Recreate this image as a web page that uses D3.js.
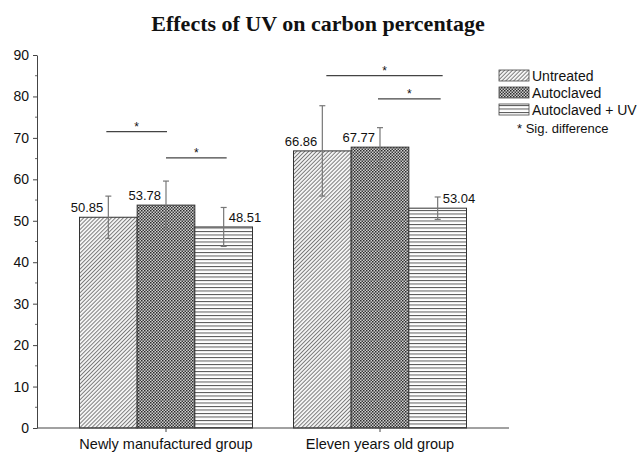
<!DOCTYPE html>
<html><head><meta charset="utf-8">
<script src="https://cdn.jsdelivr.net/npm/d3@7"></script>
<style>body{margin:0;background:#fff}</style>
</head><body>
<svg id="c" width="641" height="452"></svg>
<script>
const groups = ["Newly manufactured group", "Eleven years old group"];
const series = ["Untreated", "Autoclaved", "Autoclaved + UV"];
const values = [[50.85, 53.78, 48.51], [66.86, 67.77, 53.04]];
const errors = [[5.1, 5.8, 4.7], [10.9, 4.7, 2.7]];
const yTicks = [0, 10, 20, 30, 40, 50, 60, 70, 80, 90];
const sigLevels = [[71.5, 65.2], [85, 79.4]]; // [long line, short line] per group
const title = "Effects of UV on carbon percentage";
const sigNote = "* Sig. difference";

const svg = d3.select("#c");
const defs = svg.append("defs");
// patterns
const p1 = defs.append("pattern").attr("id","pat0").attr("patternUnits","userSpaceOnUse")
  .attr("width",2.8).attr("height",2.8).attr("patternTransform","rotate(45)");
p1.append("rect").attr("width",2.8).attr("height",2.8).attr("fill","#f4f4f4");
p1.append("line").attr("x1",0).attr("y1",0).attr("x2",0).attr("y2",2.8).attr("stroke","#444").attr("stroke-width",1.3);
const p2 = defs.append("pattern").attr("id","pat1").attr("patternUnits","userSpaceOnUse")
  .attr("width",3).attr("height",3);
p2.append("rect").attr("width",3).attr("height",3).attr("fill","#d0d0d0");
p2.append("rect").attr("width",1.5).attr("height",1.5).attr("fill","#2a2a2a");
p2.append("rect").attr("x",1.5).attr("y",1.5).attr("width",1.5).attr("height",1.5).attr("fill","#3a3a3a");
const p3 = defs.append("pattern").attr("id","pat2").attr("patternUnits","userSpaceOnUse")
  .attr("width",4).attr("height",3.5);
p3.append("rect").attr("width",4).attr("height",3.5).attr("fill","#fff");
p3.append("line").attr("x1",0).attr("y1",0.5).attr("x2",4).attr("y2",0.5).attr("stroke","#555").attr("stroke-width",1);

const y = d3.scaleLinear().domain([0, 90]).range([428, 55]);
const x0 = d3.scaleBand().domain(groups).range([59, 487]).padding(0);
const x1 = d3.scaleBand().domain(series).range([0, 173]);
const off = (x0.bandwidth() - 173) / 2;

// title
svg.append("text").attr("x", 318).attr("y", 31).attr("text-anchor","middle")
  .attr("font-family","Liberation Serif, Times New Roman, serif").attr("font-weight","bold")
  .attr("font-size", 22).attr("fill","#111").text(title);

// bars
groups.forEach((g, gi) => {
  series.forEach((s, si) => {
    const bx = x0(g) + off + x1(s);
    svg.append("rect").attr("x", bx).attr("y", y(values[gi][si]))
      .attr("width", x1.bandwidth()).attr("height", y(0) - y(values[gi][si]))
      .attr("fill", `url(#pat${si})`).attr("stroke","#333").attr("stroke-width",1);
  });
});
// error bars
groups.forEach((g, gi) => {
  series.forEach((s, si) => {
    const cx = x0(g) + off + x1(s) + x1.bandwidth()/2;
    const v = values[gi][si], e = errors[gi][si];
    const eg = svg.append("g").attr("stroke","#777").attr("stroke-width",1.2);
    eg.append("line").attr("x1",cx).attr("x2",cx).attr("y1",y(v+e)).attr("y2",y(v-e));
    eg.append("line").attr("x1",cx-3).attr("x2",cx+3).attr("y1",y(v+e)).attr("y2",y(v+e));
    eg.append("line").attr("x1",cx-3).attr("x2",cx+3).attr("y1",y(v-e)).attr("y2",y(v-e));
    const lab = svg.append("text").attr("y", y(v) - 5)
      .attr("font-family","Liberation Sans, Arial, sans-serif").attr("font-size",13).attr("fill","#111")
      .text(v.toFixed(2));
    if (si < 2) lab.attr("x", cx - 5).attr("text-anchor","end");
    else lab.attr("x", cx + 5).attr("text-anchor","start");
  });
});
// significance lines
groups.forEach((g, gi) => {
  const c = i => x0(g) + off + x1(series[i]) + x1.bandwidth()/2;
  const lines = [[c(0) - 2, c(1) + 1, sigLevels[gi][0]], [c(1) + 0, c(2) + 3, sigLevels[gi][1]]];
  if (gi === 1) { lines[0] = [c(0) + 4, c(2) + 5, sigLevels[gi][0]]; lines[1] = [c(1) - 2, c(2) + 3, sigLevels[gi][1]]; }
  lines.forEach(([a, b, lv]) => {
    svg.append("line").attr("x1",a).attr("x2",b).attr("y1",y(lv)).attr("y2",y(lv))
      .attr("stroke","#444").attr("stroke-width",1.2);
    svg.append("text").attr("x",(a+b)/2).attr("y",y(lv)-1).attr("text-anchor","middle")
      .attr("font-family","Liberation Sans, Arial, sans-serif").attr("font-size",12).attr("fill","#111").text("*");
  });
});

// y axis
const yAxis = d3.axisLeft(y).tickValues(yTicks).tickSize(4).tickSizeOuter(0);
const ya = svg.append("g").attr("transform","translate(37,0)").call(yAxis);
ya.selectAll("text").attr("font-family","Liberation Sans, Arial, sans-serif").attr("font-size",14).attr("fill","#111").attr("dx",-1);
ya.select(".domain").attr("stroke","#444");
ya.selectAll(".tick line").attr("stroke","#444");
const minor = d3.range(5, 90, 10);
svg.append("g").selectAll("line").data(minor).join("line")
  .attr("x1",35).attr("x2",37).attr("y1",d=>y(d)).attr("y2",d=>y(d)).attr("stroke","#666");

// x axis
svg.append("line").attr("x1",37).attr("x2",509).attr("y1",y(0)).attr("y2",y(0)).attr("stroke","#444").attr("stroke-width",1.2);
const xa = svg.append("g").attr("transform",`translate(0,${y(0)})`)
  .call(d3.axisBottom(x0).tickSize(4).tickSizeOuter(0));
xa.select(".domain").remove();
xa.selectAll(".tick line").attr("stroke","#444");
xa.selectAll("text").attr("font-family","Liberation Sans, Arial, sans-serif").attr("font-size",14.5).attr("fill","#111").attr("dy","0.95em");

// legend
const lg = svg.append("g");
series.forEach((s, si) => {
  const ly = 70 + si * 17;
  lg.append("rect").attr("x",499).attr("y",ly).attr("width",30).attr("height",11)
    .attr("fill",`url(#pat${si})`).attr("stroke","#444").attr("stroke-width",0.8);
  lg.append("text").attr("x",532).attr("y",ly+10.5)
    .attr("font-family","Liberation Sans, Arial, sans-serif").attr("font-size",14).attr("fill","#111").text(s);
});
lg.append("text").attr("x",517).attr("y",133)
  .attr("font-family","Liberation Sans, Arial, sans-serif").attr("font-size",13).attr("fill","#111").text(sigNote);
</script>
</body></html>
